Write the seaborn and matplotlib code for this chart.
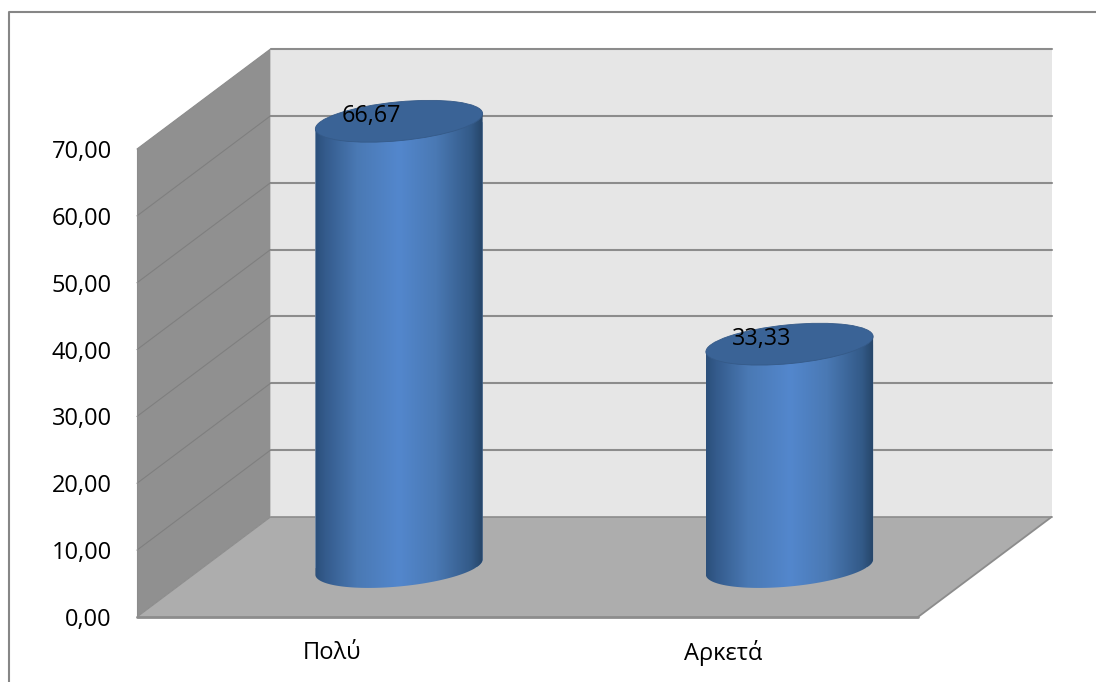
import numpy as np
import matplotlib
matplotlib.use("Agg")
import matplotlib.pyplot as plt
import seaborn as sns
from matplotlib.colors import LinearSegmentedColormap
from matplotlib.lines import Line2D
from matplotlib.patches import Ellipse, PathPatch, Polygon
from matplotlib.path import Path
from matplotlib.transforms import Affine2D, IdentityTransform

categories = ["Πολύ", "Αρκετά"]
values = [66.67, 33.33]
y_ticks = [0, 10, 20, 30, 40, 50, 60, 70]

W, H = 1096, 682
DEPTH_X, DEPTH_Y = 133.5, 100.0
ELL_A, ELL_B, ELL_DEG = 84.0, 19.4, 5.5

sns.set_theme(style="white")
plt.rcParams["font.family"] = ["Open Sans", "DejaVu Sans"]

fig = plt.figure(figsize=(W / 100, H / 100), dpi=100, facecolor="white")
ax = fig.add_axes([137 / W, 1 - 617 / H, 781 / W, 468 / H])
ax.set_facecolor("none")

sns.barplot(x=categories, y=values, width=0.428, color="#4a7ab5", saturation=1,
            ax=ax, zorder=5)
ax.set_xlim(-0.5, 1.5)
ax.set_ylim(0, 70)
bars = list(ax.patches)


def px(x, y, depth=0.0):
    p = ax.transData.transform((x, y))
    return p[0] + depth * DEPTH_X, p[1] + depth * DEPTH_Y


ident = IdentityTransform()
x0, x1 = ax.get_xlim()
ymax = ax.get_ylim()[1]

# back wall, side wall, floor
ax.add_patch(Polygon([px(x0, 0, 1), px(x1, 0, 1), px(x1, ymax, 1), px(x0, ymax, 1)],
                     closed=True, transform=ident, fc="#e6e6e6", ec="none",
                     zorder=1, clip_on=False))
ax.add_patch(Polygon([px(x0, 0), px(x0, 0, 1), px(x0, ymax, 1), px(x0, ymax)],
                     closed=True, transform=ident, fc="#909090", ec="none",
                     zorder=2, clip_on=False))
for t in y_ticks[1:]:
    a, b, c = px(x0, t), px(x0, t, 1), px(x1, t, 1)
    ax.add_line(Line2D([b[0], c[0]], [b[1], c[1]], transform=ident, color="#8c8c8c",
                       lw=1.5, zorder=2, clip_on=False))
    if t < ymax:
        ax.add_line(Line2D([a[0], b[0]], [a[1], b[1]], transform=ident, color="#7f7f7f",
                           lw=0.8, zorder=3, clip_on=False))
ax.add_patch(Polygon([px(x0, 0), px(x1, 0), px(x1, 0, 1), px(x0, 0, 1)],
                     closed=True, transform=ident, fc="#adadad", ec="none",
                     zorder=3, clip_on=False))
for (p, q, lw) in [(px(x0, 0), px(x1, 0), 2.0), (px(x1, 0), px(x1, 0, 1), 1.3),
                   (px(x0, 0), px(x0, 0, 1), 0.8), (px(x0, 0, 1), px(x1, 0, 1), 1.2),
                   (px(x0, 0), px(x0, ymax), 0.8), (px(x0, ymax), px(x0, ymax, 1), 0.8)]:
    ax.add_line(Line2D([p[0], q[0]], [p[1], q[1]], transform=ident, color="#8c8c8c",
                       lw=lw, zorder=3.5, clip_on=False))

# cylinders
body_cmap = LinearSegmentedColormap.from_list(
    "body", [(0.0, "#2b4f7a"), (0.06, "#345b8c"), (0.25, "#4a79b4"), (0.5, "#5387cd"),
             (0.72, "#4a79b4"), (0.93, "#335a88"), (1.0, "#264568")])
grad = np.linspace(0, 1, 256).reshape(1, -1)
th = np.radians(ELL_DEG)


def ell_pts(c, t):
    ex, ey = ELL_A * np.cos(t), ELL_B * np.sin(t)
    return np.c_[c[0] + ex * np.cos(th) - ey * np.sin(th),
                 c[1] + ex * np.sin(th) + ey * np.cos(th)]


offset = Affine2D().translate(DEPTH_X / 2, DEPTH_Y / 2)
for i, (bar, v) in enumerate(zip(bars, values)):
    bar.set_transform(ax.transData + offset)
    xc = bar.get_x() + bar.get_width() / 2
    base = px(xc, 0, 0.5)
    top = px(xc, v, 0.5)
    arc = ell_pts(base, np.linspace(np.pi, 2 * np.pi, 80))
    tips = ell_pts(top, np.array([0.0, np.pi]))
    verts = np.vstack([arc, tips, arc[:1]])
    codes = [Path.MOVETO] + [Path.LINETO] * (len(verts) - 2) + [Path.CLOSEPOLY]
    clip = PathPatch(Path(verts, codes), transform=ident, fc="none", ec="none")
    clip.set_clip_on(False)
    ax.add_patch(clip)
    bar.set_clip_box(fig.bbox)
    bar.set_clip_path(clip)
    l = base[0] - ELL_A * np.cos(th)
    r = base[0] + ELL_A * np.cos(th)
    im = ax.imshow(grad, cmap=body_cmap, aspect="auto", transform=ident,
                   extent=(l, r, base[1] - 40, top[1] + 40), zorder=6)
    im.set_clip_box(fig.bbox)
    im.set_clip_path(clip)
    ax.add_patch(Ellipse(top, 2 * ELL_A, 2 * ELL_B, angle=ELL_DEG, transform=ident,
                         fc="#3a6396", ec="#355a88", lw=0.6, zorder=7, clip_on=False))
    ax.annotate(f"{v:.2f}".replace(".", ","), xy=top, xycoords=ident, xytext=(-28, 5),
                textcoords="offset pixels", ha="center", va="center", fontsize=16.8,
                color="black", zorder=8, annotation_clip=False)

ax.set_xlim(x0, x1)
ax.set_ylim(0, ymax)
ax.set_yticks(y_ticks)
ax.set_yticklabels([f"{t:.2f}".replace(".", ",") for t in y_ticks])
ax.set_xticks(range(len(categories)))
ax.set_xticklabels(categories, va="center")
ax.tick_params(axis="y", length=0, pad=18, labelsize=17, labelcolor="black")
ax.tick_params(axis="x", length=0, pad=26, labelsize=17, labelcolor="black")
for s in ax.spines.values():
    s.set_visible(False)

# outer chart frame
fig.add_artist(Line2D([8.5 / W, 8.5 / W, 1], [0, 1 - 12 / H, 1 - 12 / H],
                      transform=fig.transFigure, color="#868686", lw=1.5))

fig.savefig("out.png", dpi=100)
